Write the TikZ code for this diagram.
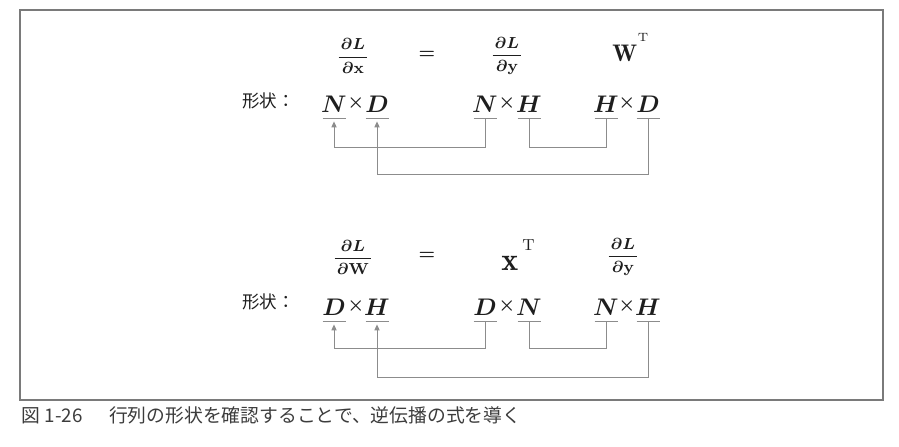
\documentclass[tikz,border=0pt]{standalone}
\usepackage{fontspec}
\newfontfamily\jpfont{Noto Sans CJK JP}
\usepackage{xcolor}
\definecolor{cInk}{HTML}{1E1E1E}
\definecolor{cLine}{HTML}{8C8C8C}
\definecolor{cFrame}{HTML}{7A7A7A}
\definecolor{cCap}{HTML}{3C3C3C}
\usepackage{tikz}
\usetikzlibrary{arrows.meta}
% raised transpose mark
\newcommand{\trsp}[2]{^{\hspace{#1}\raisebox{#2}{$\scriptscriptstyle\mathrm{T}$}}}
\tikzset{
  dim/.style={font=\fontsize{12.5}{14}\selectfont\boldmath,text=cInk,inner sep=0pt,
    text height=9pt,text depth=3pt,anchor=base},
  op/.style={font=\fontsize{9.5}{11}\selectfont\boldmath,text=cInk,inner sep=0pt},
  frac-node/.style={font=\fontsize{8}{9}\selectfont\boldmath,text=cInk,inner sep=0pt},
  mat-node/.style={text=cInk,inner sep=0pt,anchor=base west},
  shape-label/.style={font=\jpfont\fontsize{8.75}{10}\selectfont,text=cInk,
    inner sep=0pt,anchor=west},
  caption/.style={font=\jpfont\fontsize{9.4}{11}\selectfont,text=cCap,
    inner sep=0pt,anchor=west},
  frame/.style={draw=cFrame,line width=0.8pt},
  dim-line/.style={draw=cLine,line width=0.6pt},
  link/.style={draw=cLine,line width=0.5pt},
  link-arrow/.style={link,-{Triangle[length=3pt,width=2.6pt]},shorten >=1.5pt},
}
\begin{document}
\begin{tikzpicture}[x=0.5pt,y=-0.5pt]
  \useasboundingbox (0,0) rectangle (899,446);
  \draw[frame] (20,10) rectangle (883,400);

  % dL/dx = dL/dy W^T
  \node[frac-node] (aLx) at (353,56) {$\displaystyle\frac{\mkern2mu\partial L\mkern2mu}{\mkern2mu\partial\mathbf{x}\mkern2mu}$};
  \node[op] (aEq) at (427,55) {$=$};
  \node[frac-node] (aLy) at (507,56) {$\displaystyle\frac{\mkern2mu\partial L\mkern2mu}{\mkern2mu\partial\mathbf{y}\mkern2mu}$};
  \node[mat-node,font=\fontsize{12}{14}\selectfont] (aW) at (612,61) {$\mathbf{W}\trsp{0.3pt}{5.5pt}$};
  \node[shape-label] (aShape) at (242,101) {形状：};
  \foreach \name/\x/\t in {aN1/334/N, aD1/377/D, aN2/485/N, aH2/529/H, aH3/606/H, aD3/648/D}
    \node[dim] (\name) at (\x,112) {$\t$};
  \foreach \name/\x in {aX1/356, aX2/507, aX3/627}
    \node[op] (\name) at (\x,103) {$\times$};

  % dL/dW = x^T dL/dy
  \node[frac-node] (bLW) at (353,257) {$\displaystyle\frac{\mkern2mu\partial L\mkern2mu}{\mkern2mu\partial\mathbf{W}\mkern2mu}$};
  \node[op] (bEq) at (427,256) {$=$};
  \node[mat-node,font=\fontsize{16}{18}\selectfont] (bx) at (501,270) {$\mathbf{x}\trsp{2pt}{3.4pt}$};
  \node[frac-node] (bLy) at (623,257) {$\displaystyle\frac{\mkern2mu\partial L\mkern2mu}{\mkern2mu\partial\mathbf{y}\mkern2mu}$};
  \node[shape-label] (bShape) at (242,302) {形状：};
  \foreach \name/\x/\t in {bD1/334/D, bH1/377/H, bD2/485/D, bN2/529/N, bN3/606/N, bH3/648/H}
    \node[dim] (\name) at (\x,315) {$\t$};
  \foreach \name/\x in {bX1/356, bX2/507, bX3/627}
    \node[op] (\name) at (\x,306) {$\times$};

  \foreach \name in {aN1,aD1,aN2,aH2,aH3,aD3,bD1,bH1,bD2,bN2,bN3,bH3}
    \draw[dim-line] ([xshift=-5.75pt]\name.south) -- ([xshift=5.75pt]\name.south);

  \draw[link-arrow] (aN2.south) -- ++(0,29) -| (aN1.south);
  \draw[link] (aH2.south) -- ++(0,29) -| (aH3.south);
  \draw[link-arrow] (aD3.south) -- ++(0,56) -| (aD1.south);
  \draw[link-arrow] (bD2.south) -- ++(0,27) -| (bD1.south);
  \draw[link] (bN2.south) -- ++(0,27) -| (bN3.south);
  \draw[link-arrow] (bH3.south) -- ++(0,56) -| (bH1.south);

  \node[caption] (cap) at (21,415) {図\hspace{0.25em}1-26\hspace{1.4em}行列の形状を確認することで、逆伝播の式を導く};
\end{tikzpicture}
\end{document}
